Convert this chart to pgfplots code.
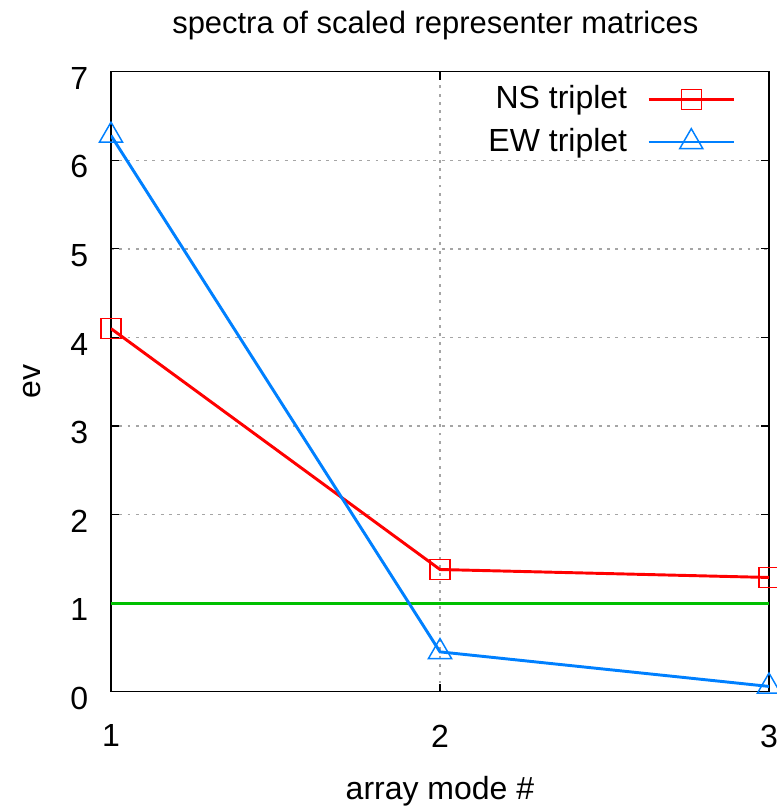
\documentclass[border=0pt]{standalone}
\usepackage{pgfplots}
\pgfplotsset{compat=1.18}
\usepackage{fontspec}
\setmainfont{Liberation Sans}
\definecolor{nsred}{RGB}{255,0,0}
\definecolor{ewblue}{RGB}{0,128,255}
\definecolor{refgreen}{RGB}{0,192,0}
\definecolor{gridgray}{RGB}{165,165,165}
\begin{document}
\fontsize{24pt}{28pt}\selectfont
\begin{tikzpicture}
\begin{axis}[
  scale only axis,
  width=493.5pt, height=465pt,
  xmin=1, xmax=3, ymin=0, ymax=7,
  xtick={1,2,3}, ytick={0,1,...,7},
  /pgf/number format/assume math mode=true,
  tick align=inside,
  major tick length=6pt,
  tick style={black, line width=0.9pt},
  axis line style={black, line width=0.9pt},
  every tick label/.append style={font=\fontsize{24pt}{28pt}\selectfont},
  yticklabel style={anchor=east, inner sep=0pt, xshift=-17pt, yshift=-5pt},
  xticklabel style={anchor=north, inner sep=0pt, yshift=-24.5pt},
  grid=major,
  major grid style={gridgray, dash pattern=on 2.2pt off 4pt, line width=1pt},
  xmajorgrids=false,
  extra x ticks={2}, extra x tick labels={},
  extra x tick style={grid=major, xmajorgrids=true},
  xlabel={array mode \#},
  ylabel={ev},
  every axis x label/.style={at={(rel axis cs:0.5,0)}, anchor=center, yshift=-74.5pt, font=\fontsize{24pt}{28pt}\selectfont},
  every axis y label/.style={at={(rel axis cs:0,0.5)}, anchor=center, xshift=-59pt, rotate=90, font=\fontsize{24pt}{28pt}\selectfont},
  title={spectra of scaled representer matrices},
  every axis title/.style={at={(rel axis cs:0.5,1)}, anchor=center, yshift=35pt, xshift=-3.5pt, font=\fontsize{23.2pt}{27pt}\selectfont},
  legend plot pos=right,
  legend cell align=right,
  legend style={at={(rel axis cs:1,1)}, anchor=north east, xshift=-25pt, yshift=-8pt,
    draw=none, fill=none, font=\fontsize{24pt}{28pt}\selectfont,
    row sep=7pt, inner sep=0pt},
  legend image code/.code={
    \path (0pt,0pt);
    \draw[mark repeat=2, mark phase=2, #1]
      plot coordinates {(13pt,0pt) (45pt,0pt) (77pt,0pt)};
  },
]
% reference level
\addplot[refgreen, line width=2.2pt, forget plot] coordinates {(1,1) (3,1)};
% NS triplet
\addplot[nsred, line width=2.2pt, mark=square, mark size=7.5pt,
  mark options={draw=nsred, line width=1.1pt, solid}] coordinates {
  (1,4.10) (2,1.38) (3,1.29)
};
\addlegendentry{NS triplet}
% EW triplet
\addplot[ewblue, line width=2.2pt, mark=triangle, mark size=10pt,
  mark options={draw=ewblue, line width=1.1pt, solid}] coordinates {
  (1,6.28) (2,0.45) (3,0.06)
};
\addlegendentry{EW triplet}
\end{axis}
\pgfresetboundingbox
\useasboundingbox (-83.25pt,-85.7pt) rectangle (499.5pt,518.8pt);
\end{tikzpicture}
\end{document}
